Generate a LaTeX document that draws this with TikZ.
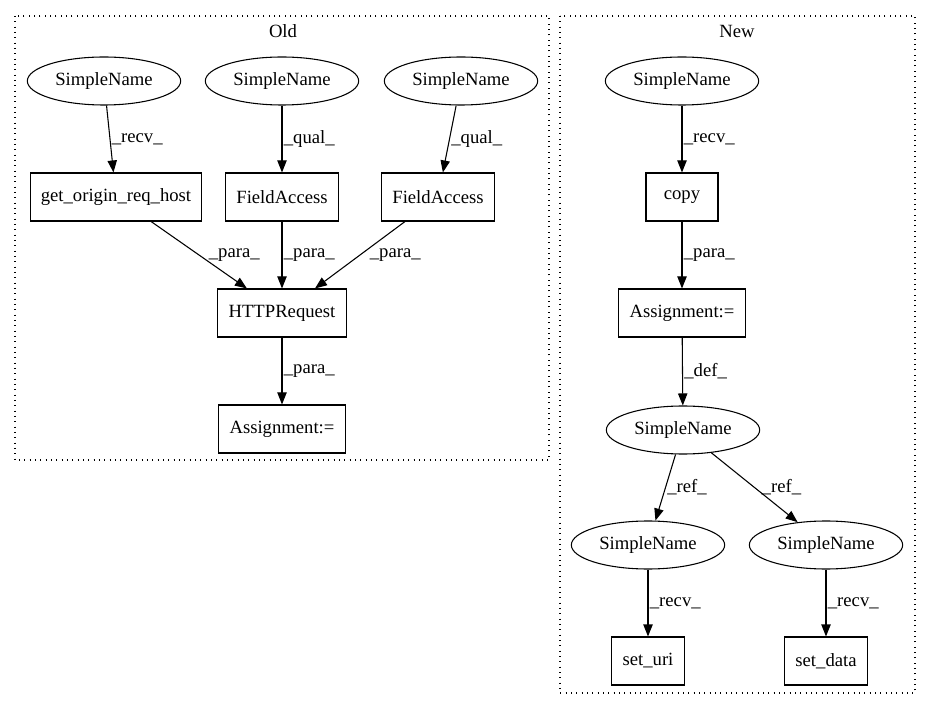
\documentclass[tikz,border=0pt]{standalone}
\usepackage{fontspec}
\setmainfont{Liberation Serif}
\usetikzlibrary{arrows.meta, shapes.geometric}

\begin{document}
\begin{tikzpicture}[x=0.75pt, y=-0.75pt, line width=0.8pt,
	every node/.style={font=\fontsize{14}{16}\selectfont},
	sname/.style={draw, ellipse, minimum width=115pt, minimum height=36pt, inner sep=0pt},
	op/.style={draw, rectangle, minimum width=54pt, minimum height=36pt, inner xsep=8pt},
	cluster/.style={draw, dash pattern=on 0.8pt off 3.2pt},
	lbl/.style={anchor=west, inner sep=1pt},
	flow/.style={-{Triangle[length=9pt, width=7pt]}}]
	\useasboundingbox (0,0) rectangle (931,712);

	% clusters
	\draw [cluster] (15,16) rectangle (549,460);
	\node (oldlbl) at (283,31) {Old};
	\draw [cluster] (560,16) rectangle (915,693);
	\node (newlbl) at (737,31) {New};

	% old version
	\node [sname] (osn1) at (104,81) {SimpleName};
	\node [sname] (osn2) at (282,81) {SimpleName};
	\node [sname] (osn3) at (461,81) {SimpleName};
	\node [op] (host) at (116,197) {get\_origin\_req\_host};
	\node [op] (ofa1) at (282,197) {FieldAccess};
	\node [op] (ofa2) at (438,197) {FieldAccess};
	\node [op] (http) at (282,313) {HTTPRequest};
	\node [op] (oasg) at (282,429) {Assignment:=};

	\draw [flow] (osn1) -- node [lbl] {\_recv\_} (host);
	\draw [flow] (osn2) -- node [lbl] {\_qual\_} (ofa1);
	\draw [flow] (osn3) -- node [lbl] {\_qual\_} (ofa2);
	\draw [flow] (host) -- node [lbl, xshift=6pt] {\_para\_} (http);
	\draw [flow] (ofa1) -- node [lbl] {\_para\_} (http);
	\draw [flow] (ofa2) -- node [lbl, xshift=6pt] {\_para\_} (http);
	\draw [flow] (http) -- node [lbl] {\_para\_} (oasg);

	% new version
	\node [sname] (nsn1) at (682,81) {SimpleName};
	\node [op] (copy) at (682,197) {copy};
	\node [op] (nasg) at (682,313) {Assignment:=};
	\node [sname] (nsn2) at (683,430) {SimpleName};
	\node [sname] (nsn3) at (648,545) {SimpleName};
	\node [sname] (nsn4) at (826,545) {SimpleName};
	\node [op] (seturi) at (648,661) {set\_uri};
	\node [op] (setdata) at (826,661) {set\_data};

	\draw [flow] (nsn1) -- node [lbl] {\_recv\_} (copy);
	\draw [flow] (copy) -- node [lbl] {\_para\_} (nasg);
	\draw [flow] (nasg) -- node [lbl] {\_def\_} (nsn2);
	\draw [flow] (nsn2) -- node [lbl] {\_ref\_} (nsn3);
	\draw [flow] (nsn2) -- node [lbl, xshift=4pt] {\_ref\_} (nsn4);
	\draw [flow] (nsn3) -- node [lbl] {\_recv\_} (seturi);
	\draw [flow] (nsn4) -- node [lbl] {\_recv\_} (setdata);
\end{tikzpicture}
\end{document}
